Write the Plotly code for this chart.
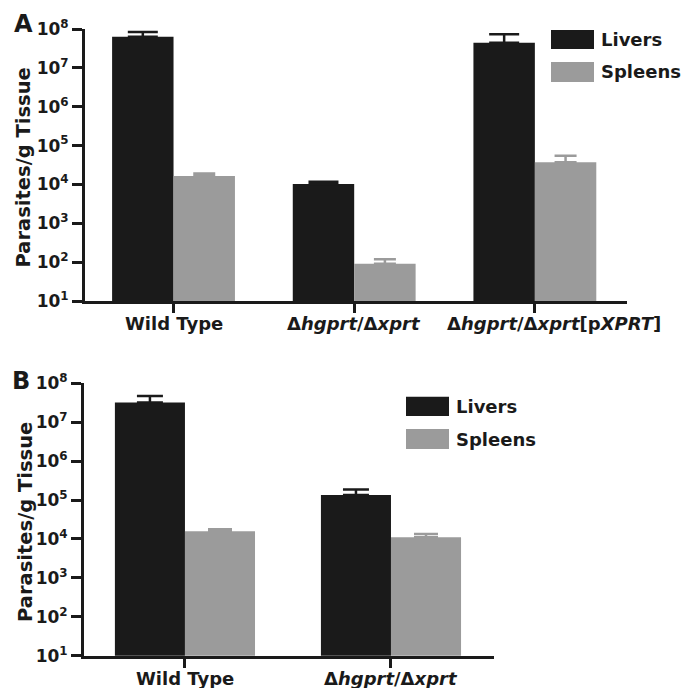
import plotly.graph_objects as go

# ---------------- data ----------------
cats_a = ["Wild Type", "Δhgprt/Δxprt", "Δhgprt/Δxprt[pXPRT]"]
labels_a = ["Wild Type", "Δ<i>hgprt</i>/Δ<i>xprt</i>", "Δ<i>hgprt</i>/Δ<i>xprt</i>[p<i>XPRT</i>]"]
livers_a = [6.3e7, 1.02e4, 4.45e7]
livers_a_err = [2.1e7, 1.5e3, 2.85e7]
spleens_a = [1.66e4, 91, 3.7e4]
spleens_a_err = [2.4e3, 27, 1.8e4]

cats_b = ["Wild Type", "Δhgprt/Δxprt"]
labels_b = ["Wild Type", "Δ<i>hgprt</i>/Δ<i>xprt</i>"]
livers_b = [3.2e7, 1.35e5]
livers_b_err = [1.5e7, 5.2e4]
spleens_b = [1.58e4, 1.1e4]
spleens_b_err = [2.0e3, 2.5e3]

exponents = [1, 2, 3, 4, 5, 6, 7, 8]
series_names = ["Livers", "Spleens"]

# ---------------- style ----------------
W, H = 683, 688
BLACK = "#1a1a1a"
GRAY = "#9b9b9b"
FONT = "DejaVu Sans"


def px_x(p):
    return p / W


def px_y(p):
    return 1 - p / H


fig = go.Figure()


def add_bars(cats, vals, errs, color, xa, ya, group, capw):
    fig.add_trace(go.Bar(
        x=cats, y=vals, name=group,
        marker=dict(color=color, line=dict(width=0)),
        error_y=dict(type="data", array=errs, arrayminus=[0] * len(errs),
                     symmetric=False, color=color, thickness=2.5, width=capw),
        xaxis=xa, yaxis=ya, offsetgroup=group, showlegend=False,
        hoverinfo="skip",
    ))


add_bars(cats_a, livers_a, livers_a_err, BLACK, "x", "y", "Livers", 15)
add_bars(cats_a, spleens_a, spleens_a_err, GRAY, "x", "y", "Spleens", 11)
add_bars(cats_b, livers_b, livers_b_err, BLACK, "x2", "y2", "Livers", 13)
add_bars(cats_b, spleens_b, spleens_b_err, GRAY, "x2", "y2", "Spleens", 12)

tickvals = [10 ** e for e in exponents]
ticktext = ["10<sup>%d</sup>" % e for e in exponents]

yax = dict(type="log", range=[1, 8], tickvals=tickvals, ticktext=ticktext,
           ticks="outside", ticklen=10, tickwidth=3, tickcolor=BLACK,
           showline=True, linewidth=3, linecolor=BLACK, showgrid=False,
           zeroline=False, automargin=False,
           tickfont=dict(family=FONT, size=17, color=BLACK, weight="bold"))
xax = dict(type="category", ticks="outside", ticklen=9, tickwidth=3, tickcolor=BLACK,
           showline=True, linewidth=3, linecolor=BLACK, showgrid=False,
           zeroline=False, showticklabels=False, automargin=False)

fig.update_layout(
    width=W, height=H,
    margin=dict(l=0, r=0, t=0, b=0, autoexpand=False),
    paper_bgcolor="white", plot_bgcolor="white",
    barmode="group", bargap=0.32, bargroupgap=0,
    xaxis=dict(xax, domain=[px_x(85), px_x(627)], range=[-0.49, 2.51], anchor="y"),
    yaxis=dict(yax, domain=[px_y(301), px_y(29)], anchor="x"),
    xaxis2=dict(xax, domain=[px_x(84), px_x(494)], range=[-0.49, 1.5], anchor="y2"),
    yaxis2=dict(yax, domain=[px_y(655.7), px_y(383.3)], anchor="x2"),
)

annotations = []
shapes = []

# category labels
for i, (c, lab) in enumerate(zip(cats_a, labels_a)):
    annotations.append(dict(x=c, xref="x", y=0, yref="y domain", yanchor="top",
                            yshift=-10, xshift=19 if i == 2 else 0, text=lab, showarrow=False,
                            font=dict(family=FONT, size=18, color=BLACK, weight="bold")))
for c, lab in zip(cats_b, labels_b):
    annotations.append(dict(x=c, xref="x2", y=0, yref="y2 domain", yanchor="top",
                            yshift=-10, text=lab, showarrow=False,
                            font=dict(family=FONT, size=18, color=BLACK, weight="bold")))

# panel letters and y titles
for letter, lx, ly, ty, tx in [("A", 23, 24, 167.5, 23), ("B", 21, 381, 522, 25)]:
    annotations.append(dict(x=px_x(lx), y=px_y(ly), xref="paper", yref="paper",
                            text=letter, showarrow=False, xanchor="center", yanchor="middle",
                            font=dict(family=FONT, size=24, color=BLACK, weight="bold")))
    annotations.append(dict(x=px_x(tx), y=px_y(ty), xref="paper", yref="paper",
                            text="Parasites/g Tissue", textangle=-90, showarrow=False,
                            xanchor="center", yanchor="middle",
                            font=dict(family=FONT, size=19.5, color=BLACK, weight="bold")))

# legends
for (x0, x1, tx, rows) in [
    (551, 594, 599, [(30, 49, 39.5), (62, 82, 72)]),
    (406, 449, 454, [(396.7, 416, 406.5), (429, 449, 439)]),
]:
    for name, color, (y0, y1, yc) in zip(series_names, [BLACK, GRAY], rows):
        shapes.append(dict(type="rect", xref="paper", yref="paper",
                           x0=px_x(x0), x1=px_x(x1), y0=px_y(y1), y1=px_y(y0),
                           fillcolor=color, line=dict(width=0)))
        annotations.append(dict(x=px_x(tx), y=px_y(yc), xref="paper", yref="paper",
                                text=name, showarrow=False, xanchor="left", yanchor="middle",
                                font=dict(family=FONT, size=18, color=BLACK, weight="bold")))

fig.update_layout(annotations=annotations, shapes=shapes)

fig.write_html("out.html", config={"displayModeBar": False},
               post_script="document.body.style.margin='0px';")
